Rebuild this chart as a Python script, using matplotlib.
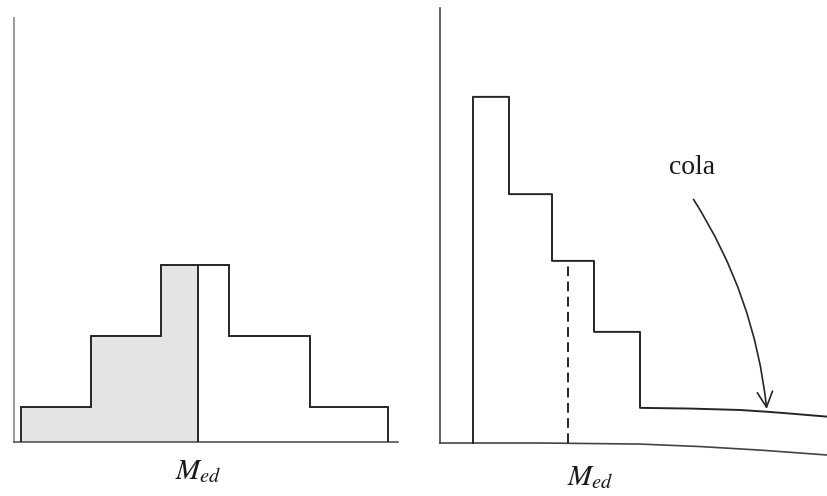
import numpy as np
import matplotlib
matplotlib.use("Agg")
import matplotlib.pyplot as plt
from matplotlib.patches import FancyArrowPatch

plt.rcParams['mathtext.fontset'] = 'stix'
plt.rcParams['font.family'] = ['Liberation Serif', 'DejaVu Serif']

# ---- data (left: symmetric histogram) ----
left_edges = [0.7, 7.7, 14.7, 21.5, 29.6, 37.4]
left_heights = [1, 3, 5, 3, 1]
left_median = 18.4

# ---- data (right: skewed histogram with long tail) ----
right_edges = [3.3, 6.9, 11.2, 15.4, 20.0]
right_heights = [9.75, 7.01, 5.13, 3.13]
tail_x = [20.0, 25.0, 30.0, 32.7, 35.0, 38.8]
tail_y = [0.99, 0.97, 0.93, 0.88, 0.83, 0.74]
base_x = [0.0, 10.0, 20.0, 26.0, 32.0, 38.8]
base_y = [0.0, 0.0, -0.03, -0.10, -0.20, -0.34]
right_median = 12.8
median_label = r"$M_{ed}$"
tail_label = "cola"

W, H = 828, 496
fig = plt.figure(figsize=(W / 100, H / 100), dpi=100)
fig.patch.set_facecolor('white')

line_c = '#262626'
lw = 1.4

# ---------------- left panel ----------------
axL = fig.add_axes([14 / W, 54 / H, 384 / W, 424 / H])
axL.set_xlim(0, 38.4)
axL.set_ylim(0, 424 / 35.5)
for s in ['top', 'right']:
    axL.spines[s].set_visible(False)
axL.spines['left'].set_color('#9a9a9a')
axL.spines['left'].set_linewidth(1.4)
axL.spines['bottom'].set_color('#555555')
axL.spines['bottom'].set_linewidth(1.2)
axL.set_xticks([])
axL.set_yticks([])
axL.set_facecolor('none')

# shaded area left of the median
xs, ys = [], []
for i, h in enumerate(left_heights):
    a, b = left_edges[i], left_edges[i + 1]
    if a >= left_median:
        break
    xs += [a, min(b, left_median)]
    ys += [h, h]
axL.fill_between(xs, ys, 0, color='#e4e4e4', lw=0, zorder=1)
axL.stairs(left_heights, left_edges, baseline=0, color=line_c, lw=lw, zorder=3)
med_h = next(h for i, h in enumerate(left_heights)
             if left_edges[i] <= left_median < left_edges[i + 1])
axL.plot([left_median, left_median], [0, med_h], color=line_c, lw=lw, zorder=3)
axL.text(left_median, -0.84, median_label, ha='center', va='center',
         fontsize=21, color='#1a1a1a', clip_on=False)

# ---------------- right panel ----------------
axR = fig.add_axes([440 / W, 53 / H, 388 / W, 435 / H])
axR.set_xlim(0, 38.8)
axR.set_ylim(0, 435 / 35.5)
for s in ['top', 'right', 'bottom']:
    axR.spines[s].set_visible(False)
axR.spines['left'].set_color('#444444')
axR.spines['left'].set_linewidth(1.2)
axR.set_xticks([])
axR.set_yticks([])
axR.set_facecolor('none')

# curved baseline (page curvature)
axR.plot(base_x, base_y, color='#444444', lw=1.2, clip_on=False, zorder=2)

# step outline + tail
px = [right_edges[0]]
py = [0]
for i, h in enumerate(right_heights):
    px += [right_edges[i], right_edges[i + 1]]
    py += [h, h]
px += [right_edges[-1]] + list(tail_x)
py += [tail_y[0]] + list(tail_y)
axR.plot(px, py, color=line_c, lw=lw, clip_on=False, zorder=3)

med_h_r = next(h for i, h in enumerate(right_heights)
               if right_edges[i] <= right_median < right_edges[i + 1])
axR.plot([right_median, right_median], [0, med_h_r], color=line_c, lw=lw,
         dashes=(5, 2.8), zorder=3)
axR.text(15.0, -0.98, median_label, ha='center', va='center',
         fontsize=21, color='#1a1a1a', clip_on=False)

axR.text(25.2, 7.75, tail_label, ha='center', va='center', fontsize=20,
         color='#1a1a1a')
arrow = FancyArrowPatch((25.2, 6.93), (32.7, tail_y[3]),
                        arrowstyle='->,head_length=0.5,head_width=0.25',
                        mutation_scale=22,
                        connectionstyle='arc3,rad=-0.12',
                        color=line_c, lw=1.2, zorder=4)
axR.add_patch(arrow)

fig.savefig('out.png', dpi=100, facecolor='white')
